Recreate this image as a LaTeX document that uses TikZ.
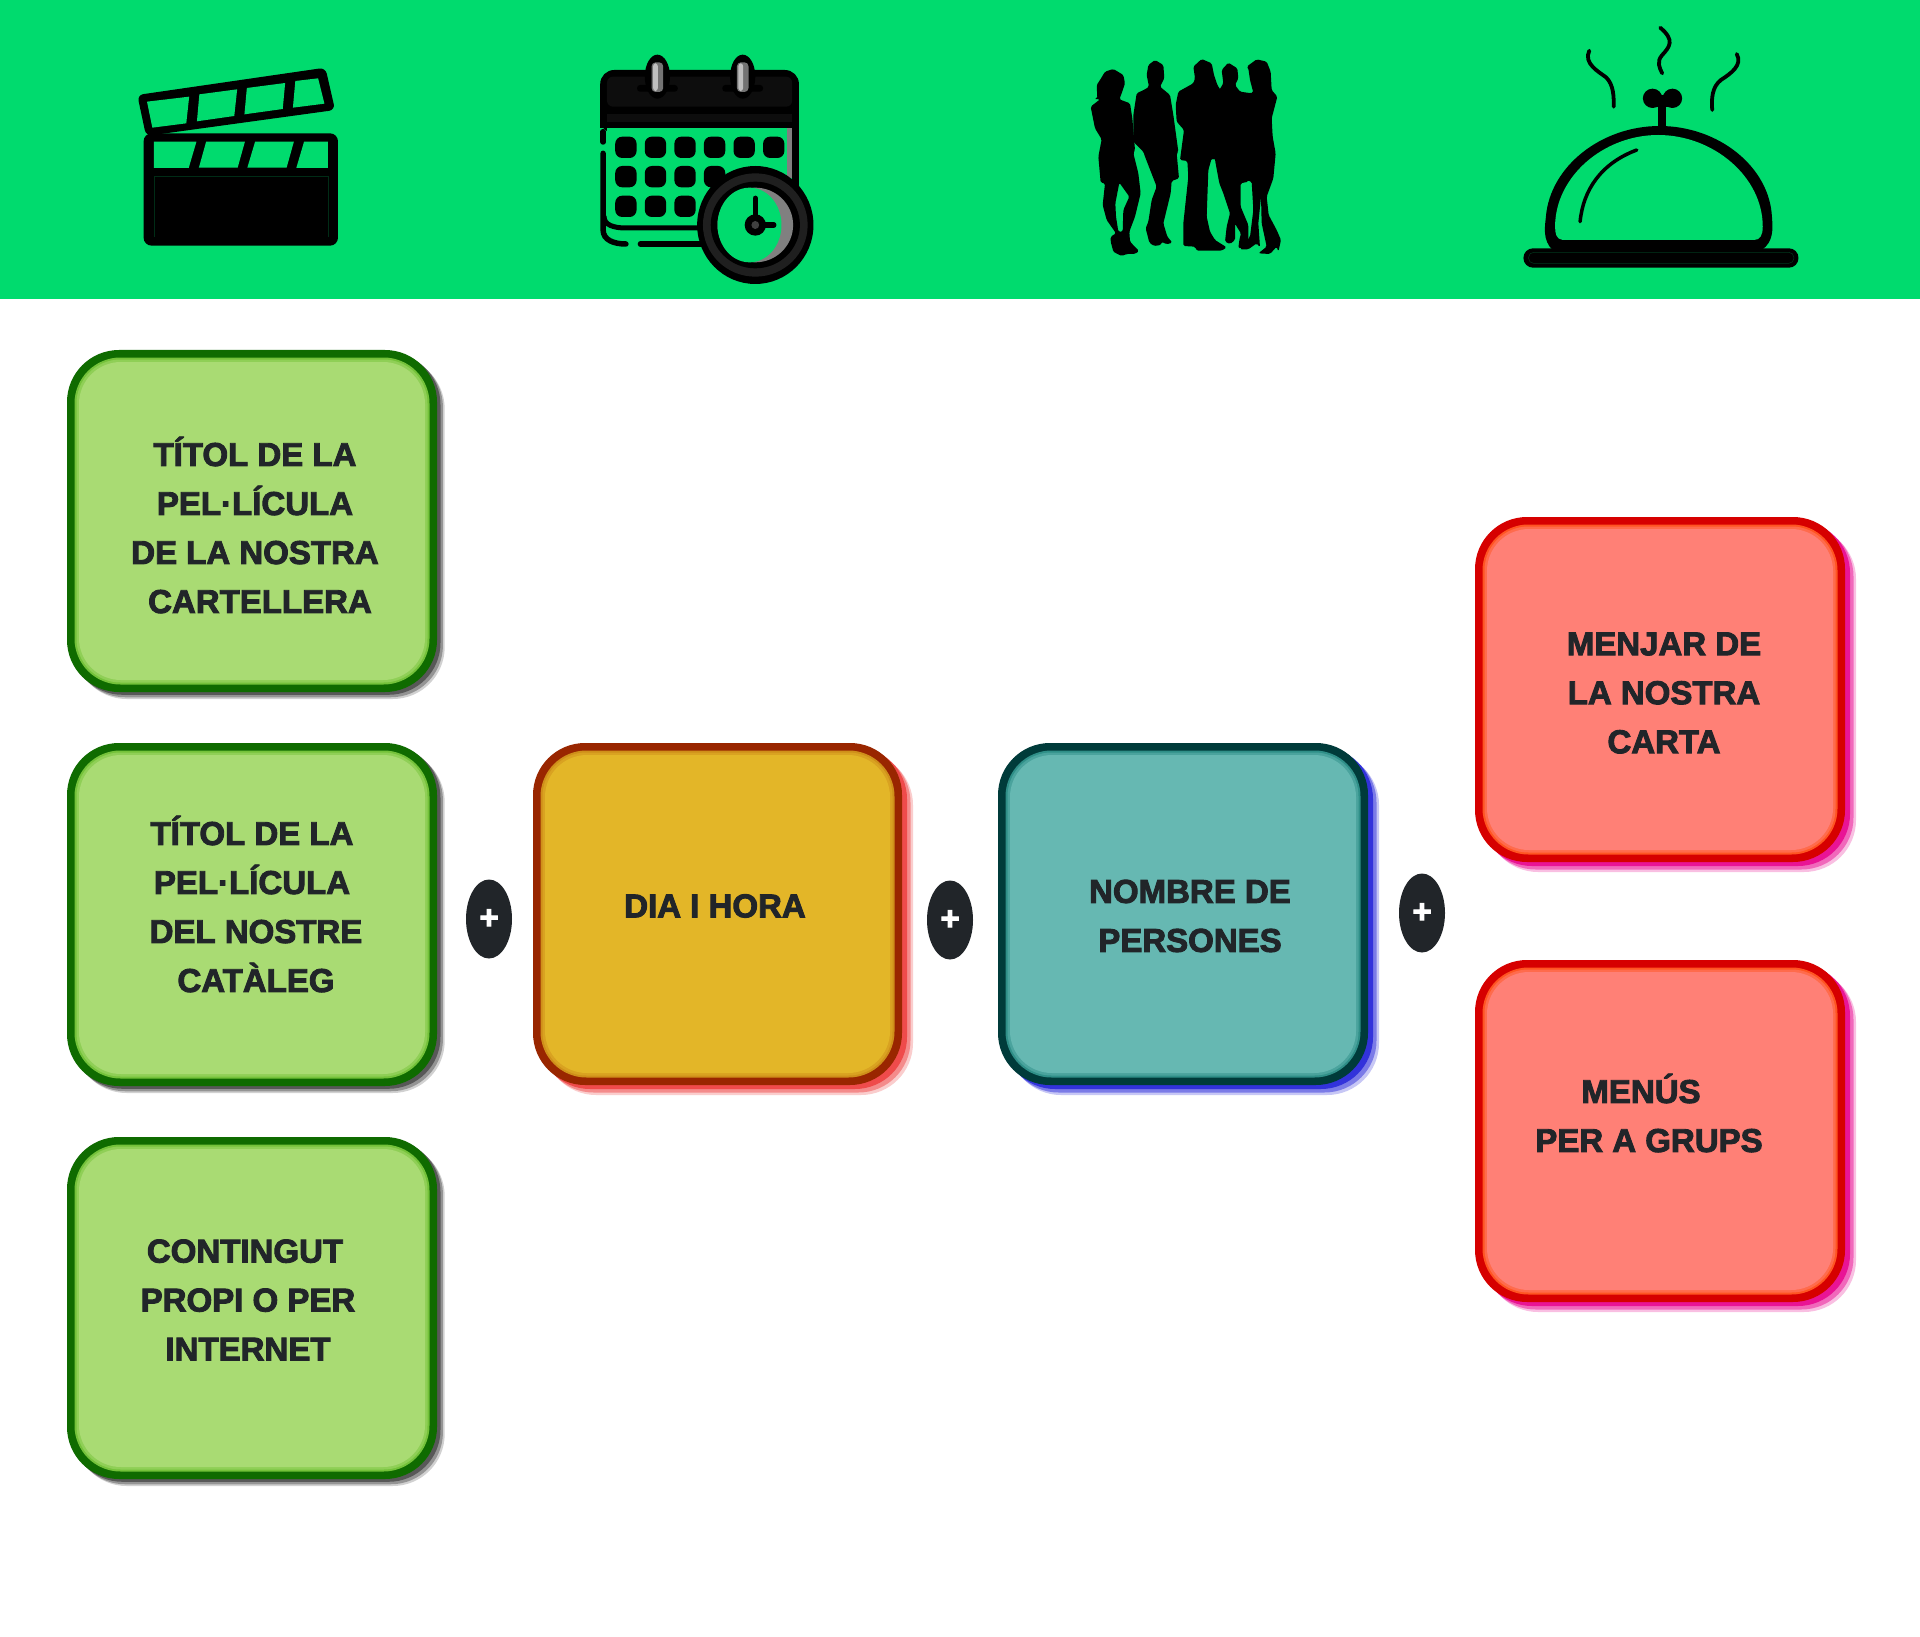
\documentclass[tikz,border=0pt]{standalone}
\usepackage{fontspec}
\setmainfont{Liberation Sans}[BoldFeatures={FakeBold=2.8}]
\usetikzlibrary{shapes.geometric}
\definecolor{hdr}{HTML}{00DB6E}
\definecolor{ink}{HTML}{212529}
\definecolor{gf}{HTML}{A9DB73}\definecolor{ge}{HTML}{0F6B00}\definecolor{gg}{HTML}{74C23A}\definecolor{gs}{HTML}{4A4A4A}
\definecolor{yf}{HTML}{E3B628}\definecolor{ye}{HTML}{992600}\definecolor{yg}{HTML}{CF8F1A}\definecolor{ys}{HTML}{EE3B3B}
\definecolor{tf}{HTML}{66B8B2}\definecolor{te}{HTML}{003B3A}\definecolor{tg}{HTML}{2F8F88}\definecolor{ts}{HTML}{2020D8}
\definecolor{rf}{HTML}{FF8076}\definecolor{re}{HTML}{D60000}\definecolor{rg}{HTML}{FF5522}\definecolor{rs}{HTML}{E8008C}
\tikzset{
  cardtext/.style={align=center,text=ink,inner sep=0pt,font=\fontsize{33}{49}\selectfont\bfseries},
  plusnode/.style={ellipse,fill=ink,text=white,minimum width=46pt,minimum height=79pt,inner sep=0pt,
     font=\fontsize{33}{33}\selectfont\bfseries},
  blk/.style={fill=black},
  grn/.style={fill=hdr},
  stm/.style={draw=black,line width=3.8pt,line cap=round},
}
% #1 name, #2 x0, #3 y0, #4 x1, #5 y1, #6 prefix of colours, #7 shadow distance factor
\newcommand\cardbox[7]{%
  \fill[#6s,opacity=.25,rounded corners=52pt] (#2+11*#7,#3+10*#7) rectangle (#4+11*#7,#5+10*#7);
  \fill[#6s,opacity=.45,rounded corners=52pt] (#2+8.5*#7,#3+7.5*#7) rectangle (#4+8.5*#7,#5+7.5*#7);
  \fill[#6s,opacity=.8,rounded corners=52pt] (#2+5*#7,#3+4*#7) rectangle (#4+5*#7,#5+4*#7);
  \node[draw=none,fill=#6e,rectangle,rounded corners=52pt,minimum width=#4pt-#2pt,minimum height=#5pt-#3pt,inner sep=0pt] (#1) at ({(#2+#4)/2},{(#3+#5)/2}) {};
  \fill[#6g,rounded corners=46pt] (#2+7.5,#3+7.5) rectangle (#4-7.5,#5-7.5);
  \fill[#6f!50!#6g,rounded corners=44pt] (#2+9.5,#3+9.5) rectangle (#4-9.5,#5-9.5);
  \fill[#6f,rounded corners=42pt] (#2+12,#3+12) rectangle (#4-12,#5-12);
}
\begin{document}
\begin{tikzpicture}[x=1pt,y=-1pt]
\useasboundingbox (0,0) rectangle (1920,1637);
\fill[white] (0,0) rectangle (1920,1637);
\fill[hdr] (0,0) rectangle (1920,299);

% clapperboard
\begin{scope}[shift={(100,0)},xscale=0.4847,yscale=0.33333]
  \fill[blk,rounded corners=6pt] (77,285) -- (465,203) -- (485,330) -- (95,408) -- cycle;
  \fill[grn] (97,305) -- (184,290) -- (178,370) -- (108,383) -- cycle;
  \fill[grn] (205,283) -- (283,268) -- (277,348) -- (200,364) -- cycle;
  \fill[grn] (303,264) -- (382,249) -- (377,327) -- (298,343) -- cycle;
  \fill[grn] (403,243) -- (450,235) -- (463,311) -- (398,323) -- cycle;
  \fill[blk,rounded corners=8pt] (90,400) rectangle (491,737);
  \fill[grn] (111,425) -- (199,425) -- (183,504) -- (111,504) -- cycle;
  \fill[grn] (219,425) -- (299,425) -- (284,503) -- (204,503) -- cycle;
  \fill[grn] (320,425) -- (400,425) -- (385,503) -- (304,503) -- cycle;
  \fill[grn] (421,425) -- (470,425) -- (470,504) -- (405,504) -- cycle;
  \draw[black!80!hdr,line width=.4pt] (111,712) -- (111,529) -- (470,529) -- (470,712);
\end{scope}

% calendar
\begin{scope}[shift={(100,0)},xscale=0.4847,yscale=0.33333]
  \fill[blk,rounded corners=14pt] (1032,210) rectangle (1442,400);
  \fill[blk] (1032,350) rectangle (1442,385);
  \fill[black!95!white,rounded corners=6pt] (1046,230) rectangle (1428,320);
  \fill[black!95!white] (1046,342) rectangle (1428,365);
  \fill[grn] (1046,385) rectangle (1428,680);
  \fill[black!50!white] (1417,385) rectangle (1428,535);
  \fill[blk] (1428,385) rectangle (1442,560);
  \draw[black,line width=5.5pt,line cap=round] (1038,395) -- (1038,426);
  \draw[black,line width=5.5pt,line cap=round] (1038,460) -- (1038,690) .. controls (1038,720) and (1060,732) .. (1085,732);
  \draw[black,line width=5.5pt,line cap=round] (1115,732) -- (1260,732);
  \draw[black,line width=5pt,line cap=round] (1040,650) .. controls (1040,675) and (1060,684) .. (1085,684) -- (1260,684);
  \foreach \cx in {1085,1146,1207,1268,1329,1390}
    \fill[blk,rounded corners=7pt] (\cx-22,410) rectangle (\cx+22,474);
  \foreach \cx in {1085,1146,1207,1268}
    \fill[blk,rounded corners=7pt] (\cx-22,498) rectangle (\cx+22,562);
  \foreach \cx in {1085,1146,1207}
    \fill[blk,rounded corners=7pt] (\cx-22,587) rectangle (\cx+22,651);
  \foreach \rx in {1150,1326} {
    \fill[blk,rounded corners=3pt] (\rx-42,255) rectangle (\rx+42,275);
    \fill[blk] (\rx,230) ellipse [x radius=26,y radius=66];
    \fill[black!55!white,rounded corners=4pt] (\rx-12,187) rectangle (\rx+12,276);
    \fill[black!25!white,rounded corners=3pt] (\rx-9,190) rectangle (\rx+1,273);
  }
  % clock
  \fill[blk] (1352,675) ellipse [x radius=120,y radius=177];
  \fill[black!88!white] (1352,675) ellipse [x radius=108,y radius=155];
  \fill[blk] (1352,675) ellipse [x radius=92,y radius=130];
  \fill[black!50!white] (1352,675) ellipse [x radius=78,y radius=112];
  \fill[grn] (1340,675) ellipse [x radius=66,y radius=112];
  \draw[black,line width=5.5pt,line cap=round] (1352,595) -- (1352,670);
  \draw[black,line width=5.5pt,line cap=round] (1352,675) -- (1390,675);
  \fill[blk] (1352,675) ellipse [x radius=22,y radius=32];
  \fill[black!75!white] (1352,675) ellipse [x radius=8,y radius=12];
\end{scope}

% people
\begin{scope}[shift={(1080,50)},scale=0.33333,rounded corners=1.5pt]
  \fill[blk,even odd rule] (75,65) -- (100,57) -- (130,75) -- (135,100) -- (125,130) -- (118,148) -- (150,160) -- (157,205) -- (165,300) -- (160,310) -- (175,370) -- (182,430) -- (165,500) -- (148,545) -- (150,575) -- (177,603) -- (165,612) -- (140,612) -- (125,618) -- (105,608) -- (100,605) -- (92,575) -- (92,560) -- (108,550) -- (80,510) -- (68,465) -- (75,400) -- (62,398) -- (55,320) -- (65,268) -- (45,235) -- (32,170) -- (60,148) -- (42,147) -- (52,145) -- (50,105) -- (60,90) -- cycle
     (118,398) -- (148,440) -- (130,480) -- (128,545) -- (115,545) -- (108,500) -- (106,460) -- cycle;
  \fill[blk] (205,45) -- (225,30) -- (250,45) -- (253,85) -- (240,110) -- (270,135) -- (280,195) -- (295,305) -- (290,310) -- (297,385) -- (275,393) -- (272,430) -- (250,520) -- (262,560) -- (277,578) -- (260,583) -- (245,575) -- (243,585) -- (222,588) -- (208,578) -- (197,535) -- (205,515) -- (215,450) -- (230,410) -- (195,320) -- (190,305) -- (160,275) -- (160,195) -- (170,130) -- (195,118) -- (207,110) -- (200,75) -- cycle;
  \fill[blk] (340,50) -- (365,27) -- (395,40) -- (402,75) -- (412,105) -- (425,125) -- (425,325) -- (405,330) -- (395,325) -- (385,360) -- (380,500) -- (390,545) -- (405,570) -- (440,592) -- (425,602) -- (350,602) -- (345,590) -- (310,588) -- (310,520) -- (325,380) -- (322,333) -- (300,330) -- (312,240) -- (290,215) -- (287,165) -- (295,125) -- (340,100) -- (345,85) -- cycle;
  \fill[blk] (425,60) -- (445,38) -- (472,55) -- (475,85) -- (465,105) -- (480,125) -- (515,130) -- (505,395) -- (482,400) -- (482,470) -- (505,525) -- (505,590) -- (475,595) -- (478,570) -- (483,550) -- (470,530) -- (465,520) -- (465,570) -- (450,582) -- (435,575) -- (440,530) -- (450,490) -- (430,430) -- (418,400) -- (405,330) -- (415,125) -- (430,100) -- cycle;
  \fill[blk] (500,50) -- (530,28) -- (560,35) -- (572,65) -- (575,120) -- (592,140) -- (575,205) -- (578,260) -- (587,310) -- (580,385) -- (560,440) -- (566,495) -- (590,540) -- (603,570) -- (595,605) -- (590,590) -- (570,612) -- (535,610) -- (560,590) -- (545,520) -- (543,440) -- (535,520) -- (540,592) -- (530,580) -- (505,598) -- (480,598) -- (510,560) -- (520,480) -- (515,395) -- (495,390) -- (500,130) -- (520,128) -- (510,90) -- (505,55) -- cycle;
\end{scope}

% cloche
\begin{scope}[shift={(1050,0)},xscale=0.5102,yscale=0.33333]
  \fill[blk,rounded corners=9.5pt] (928,745) rectangle (1467,803);
  \draw[black!75!hdr,line width=.5pt,rounded corners=5pt] (938,757) rectangle (1458,790);
  \fill[blk] (985,750) .. controls (965,720) and (970,680) .. (972,650) .. controls (980,500) and (1080,378) .. (1195,378) .. controls (1310,378) and (1410,500) .. (1415,650) .. controls (1417,690) and (1418,725) .. (1395,750) -- cycle;
  \fill[grn] (1005,720) .. controls (992,718) and (990,700) .. (990,680) .. controls (990,530) and (1085,405) .. (1192,405) .. controls (1300,405) and (1397,530) .. (1397,680) .. controls (1397,705) and (1392,720) .. (1380,720) -- cycle;
  \draw[black,line width=3.5pt,line cap=round] (1039,665) .. controls (1045,570) and (1080,490) .. (1150,450);
  \fill[blk] (1192,315) rectangle (1208,380);
  \fill[blk] (1186,285) rectangle (1214,320);
  \fill[blk] (1181,295) ellipse [x radius=19,y radius=29];
  \fill[blk] (1220,295) ellipse [x radius=19,y radius=29];
  \draw[stm] (1196,83) .. controls (1225,120) and (1215,140) .. (1200,165) .. controls (1188,185) and (1195,205) .. (1200,220);
  \draw[stm] (1057,152) .. controls (1045,190) and (1075,215) .. (1090,232) .. controls (1105,255) and (1105,290) .. (1105,320);
  \draw[stm] (1346,162) .. controls (1358,195) and (1335,220) .. (1315,240) .. controls (1298,260) and (1296,295) .. (1298,330);
\end{scope}

% cards
\cardbox{c1}{67}{350}{437}{692}{g}{.7}
\cardbox{c2}{67}{743}{437}{1086}{g}{.7}
\cardbox{c3}{67}{1137}{437}{1479}{g}{.7}
\cardbox{c4}{533}{743}{902}{1085}{y}{1}
\cardbox{c5}{998}{743}{1368}{1085}{t}{1}
\cardbox{c6}{1475}{517}{1845}{862}{r}{1}
\cardbox{c7}{1475}{960}{1845}{1302}{r}{1}

\node[cardtext] (t1) at (255,525) {TÍTOL DE LA\\PEL·LÍCULA\\DE LA NOSTRA\\\hspace*{10pt}CARTELLERA};
\node[cardtext] (t2) at (254,904) {\hspace*{-4pt}TÍTOL DE LA\\\hspace*{-4pt}PEL·LÍCULA\\\hspace*{4pt}DEL NOSTRE\\\hspace*{4pt}CATÀLEG};
\node[cardtext] (t3) at (248,1300) {\hspace*{-6pt}CONTINGUT\\PROPI O PER\\INTERNET};
\node[cardtext] (t4) at (715,906) {DIA I HORA};
\node[cardtext] (t5) at (1190,916) {NOMBRE DE\\PERSONES};
\node[cardtext] (t6) at (1664,693) {MENJAR DE\\LA NOSTRA\\CARTA};
\node[cardtext] (t7) at (1649,1113) {\hspace*{-16pt}MENÚS\\PER A GRUPS};

\node[plusnode] (p1) at (489,919) {+};
\node[plusnode] (p2) at (950,920) {+};
\node[plusnode] (p3) at (1422,913) {+};
\end{tikzpicture}
\end{document}
